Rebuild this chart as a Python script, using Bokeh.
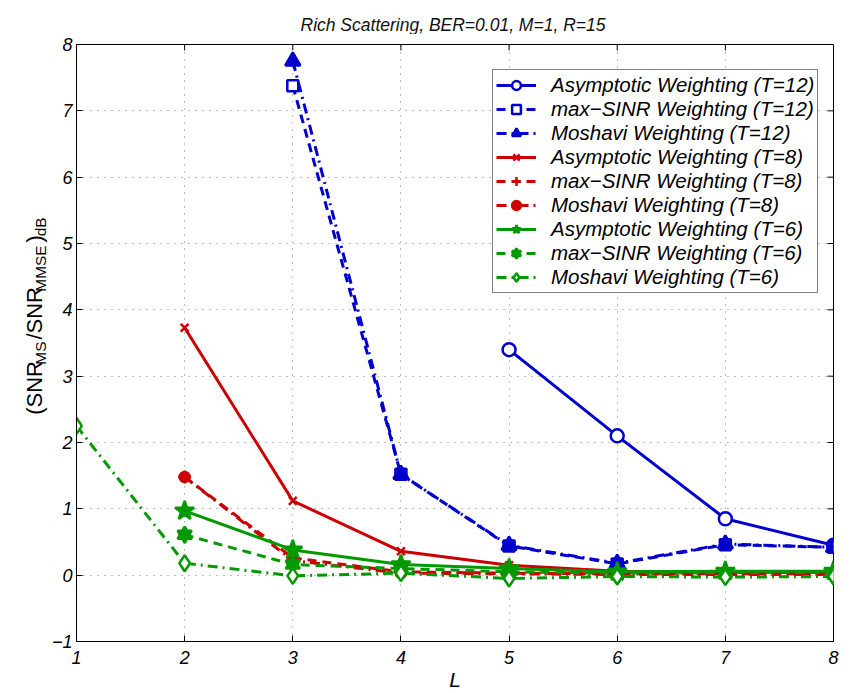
import math
from bokeh.plotting import figure
from bokeh.layouts import row, column
from bokeh.models import Range1d, Label, Legend, LegendItem, FixedTicker
from bokeh.embed import file_html
from bokeh.resources import INLINE

# ---------------- data ----------------
x_ticks = [1, 2, 3, 4, 5, 6, 7, 8]
y_ticks = [-1, 0, 1, 2, 3, 4, 5, 6, 7, 8]
x_lo, x_hi = 1, 8
y_lo, y_hi = -1, 8

L_asym_T12 = [5, 6, 7, 8]
asym_T12 = [3.40, 2.10, 0.85, 0.45]
L_T12 = [3, 4, 5, 6, 7, 8]
maxsinr_T12 = [7.38, 1.52, 0.44, 0.17, 0.46, 0.42]
moshavi_T12 = [7.75, 1.52, 0.45, 0.18, 0.47, 0.42]

L_T8 = [2, 3, 4, 5, 6, 7, 8]
asym_T8 = [3.73, 1.12, 0.36, 0.15, 0.06, 0.05, 0.05]
maxsinr_T8 = [1.48, 0.26, 0.05, 0.03, 0.02, 0.02, 0.02]
moshavi_T8 = [1.48, 0.22, 0.03, 0.02, 0.01, 0.01, 0.01]

L_T6 = [2, 3, 4, 5, 6, 7, 8]
asym_T6 = [0.97, 0.38, 0.16, 0.10, 0.05, 0.06, 0.06]
maxsinr_T6 = [0.61, 0.16, 0.10, 0.05, 0.03, 0.04, 0.04]
L_mosh_T6 = [1, 2, 3, 4, 5, 6, 7, 8]
moshavi_T6 = [2.25, 0.18, -0.01, 0.03, -0.05, -0.02, -0.03, -0.02]

labels = [
    "Asymptotic Weighting (T=12)", "max\u2212SINR Weighting (T=12)", "Moshavi Weighting (T=12)",
    "Asymptotic Weighting (T=8)", "max\u2212SINR Weighting (T=8)", "Moshavi Weighting (T=8)",
    "Asymptotic Weighting (T=6)", "max\u2212SINR Weighting (T=6)", "Moshavi Weighting (T=6)",
]
title_text = "Rich Scattering, BER=0.01, M=1, R=15"
x_label = "L"
# (text, kind); a None text is a word space
y_label_parts = [("(SNR", "main"), ("MS", "sub"), (None, "main"), ("/SNR", "main"),
                 ("MMSE", "sub"), (None, "main"), (")", "main"), ("dB", "sub")]

FONT = "Liberation Sans"
BLUE, RED, GREEN = "#0000CC", "#CC0000", "#009900"
SOLID, DASH, DASHDOT = "solid", "9 6", "10 5 2 5"
LW = 3
W_TOTAL, H_TITLE, H_MAIN = 842, 34, 659
W1 = 48


def blank_panel(w, h):
    f = figure(width=w, height=h, x_range=Range1d(0, w), y_range=Range1d(0, h),
               x_axis_type=None, y_axis_type=None, min_border=0, output_backend="svg",
               toolbar_location=None)
    f.outline_line_color = None
    f.background_fill_color = "white"
    f.border_fill_color = "white"
    f.xgrid.visible = False
    f.ygrid.visible = False
    return f


# ---- title panel ----
tfig = blank_panel(W_TOTAL, H_TITLE)
tfig.add_layout(Label(x=300, y=H_TITLE - 24, text=title_text, text_align="left",
                      text_baseline="alphabetic", text_font=FONT, text_font_style="italic",
                      text_font_size="17.5px", text_color="#111111"))

# ---- main plot ----
p = figure(width=W_TOTAL - W1, height=H_MAIN, x_range=Range1d(x_lo, x_hi),
           y_range=Range1d(y_lo, y_hi), output_backend="svg", toolbar_location=None,
           min_border_left=28, min_border_right=9, min_border_top=10, min_border_bottom=51)
p.background_fill_color = "white"
p.border_fill_color = "white"
p.outline_line_color = "black"
p.outline_line_width = 1

for ax, ticks in ((p.xaxis, x_ticks), (p.yaxis, y_ticks)):
    ax.ticker = FixedTicker(ticks=ticks)
    ax.major_tick_in = 6
    ax.major_tick_out = 0
    ax.minor_tick_line_color = None
    ax.axis_line_color = "black"
    ax.major_tick_line_color = "black"
    ax.major_label_text_font = FONT
    ax.major_label_text_font_style = "italic"
    ax.major_label_text_font_size = "18px"
    ax.major_label_text_color = "black"
p.xaxis.major_label_standoff = 9
p.yaxis.major_label_standoff = 4
p.yaxis.major_label_overrides = {-1: "\u22121"}
p.xaxis.axis_label = x_label
p.xaxis.axis_label_text_font = FONT
p.xaxis.axis_label_text_font_style = "italic"
p.xaxis.axis_label_text_font_size = "21px"
p.xaxis.axis_label_text_color = "black"
p.xaxis.axis_label_standoff = 1

for g in (p.xgrid, p.ygrid):
    g.grid_line_color = "#808080"
    g.grid_line_dash = "1 6"
    g.grid_line_width = 1

# inward ticks on the top and right edges of the box
p.ray(x=x_ticks, y=[y_hi] * len(x_ticks), length=6, length_units="screen",
      angle=-math.pi / 2, line_color="black", line_width=1)
p.ray(x=[x_hi] * len(y_ticks), y=y_ticks, length=6, length_units="screen",
      angle=math.pi, line_color="black", line_width=1)


def series(x, y, color, dash, markers):
    rs = [p.line(x, y, line_color=color, line_width=LW, line_dash=dash)]
    for mk, size, fill in markers:
        rs.append(p.scatter(x, y, marker=mk, size=size, line_color=color, line_width=2.5,
                            fill_color=fill))
    return rs


items = []
items.append(series(L_asym_T12, asym_T12, BLUE, SOLID, [("circle", 13, "white")]))
items.append(series(L_T12, maxsinr_T12, BLUE, DASH, [("square", 11, "white")]))
items.append(series(L_T12, moshavi_T12, BLUE, DASHDOT, [("triangle", 15, BLUE)]))
items.append(series(L_T8, asym_T8, RED, SOLID, [("x", 11, RED)]))
items.append(series(L_T8, maxsinr_T8, RED, DASH, [("cross", 13, RED)]))
items.append(series(L_T8, moshavi_T8, RED, DASHDOT, [("circle", 10, RED)]))
items.append(series(L_T6, asym_T6, GREEN, SOLID, [("star", 20, GREEN)]))
items.append(series(L_T6, maxsinr_T6, GREEN, DASH,
                    [("triangle", 14, GREEN), ("inverted_triangle", 14, GREEN)]))
items.append(series(L_mosh_T6, moshavi_T6, GREEN, DASHDOT, [("diamond", 16, "white")]))

legend = Legend(items=[LegendItem(label=lab, renderers=rs) for lab, rs in zip(labels, items)],
                location=(416, 348), margin=0, padding=3, spacing=0,
                glyph_width=40, glyph_height=22, label_height=22, label_standoff=15,
                label_text_font=FONT, label_text_font_style="italic",
                label_text_font_size="20.5px", label_text_color="black",
                border_line_color="black", border_line_width=1,
                background_fill_color="white", background_fill_alpha=1)
p.add_layout(legend)

# ---- y label panel (rotated text with subscripts), pieces placed by their centres ----
ylab = blank_panel(W1, H_MAIN)
# Arial/Liberation advance widths (per 1 em) used to chain the pieces
ADV = {"(": 0.333, ")": 0.333, " ": 0.278, "/": 0.278, "S": 0.667, "N": 0.722, "R": 0.722,
       "M": 0.833, "E": 0.667, "d": 0.556, "B": 0.667}
MAIN_FS, SUB_FS = 22, 15.4
MAIN_BASE, SUB_BASE = 41.5, 45.5  # screen x of the baselines
pos = 440.0 - H_TITLE  # screen y (within panel) where the label starts (bottom end)
for txt, kind in y_label_parts:
    fs = MAIN_FS if kind == "main" else SUB_FS
    if txt is None:
        pos -= fs * ADV[" "]
        continue
    w = fs * sum(ADV[c] for c in txt)
    base = MAIN_BASE if kind == "main" else SUB_BASE
    cx = base - fs * (0.905 - 0.212) / 2  # middle of the em box, left of the baseline
    cy = pos - w / 2
    ylab.add_layout(Label(x=cx, y=H_MAIN - cy, text=txt, angle=math.pi / 2,
                          text_align="center", text_baseline="middle", text_font=FONT,
                          text_font_size=f"{fs}px", text_color="black"))
    pos -= w

layout = column(tfig, row(ylab, p, spacing=0), spacing=0)
open("out.html", "w").write(file_html(layout, INLINE))
